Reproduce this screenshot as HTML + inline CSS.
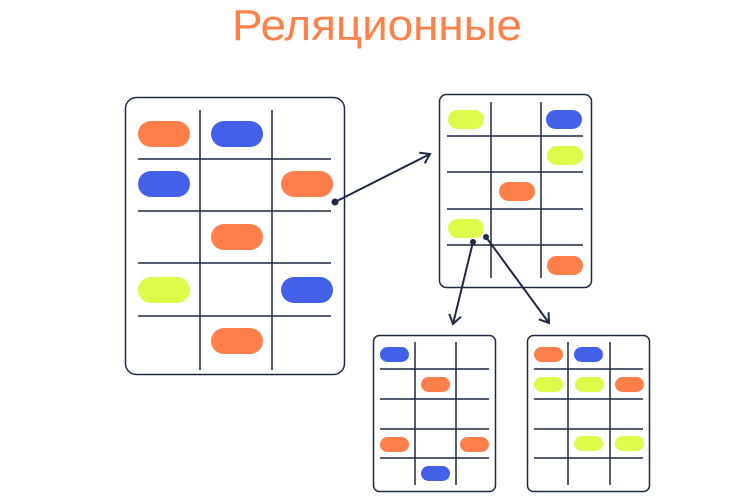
<!DOCTYPE html>
<html><head><meta charset="utf-8"><style>html,body{margin:0;padding:0;background:#fff}svg{display:block}</style></head>
<body>
<svg width="755" height="500" viewBox="0 0 755 500" xmlns="http://www.w3.org/2000/svg">
<defs>
<marker id="ah" markerWidth="14" markerHeight="14" refX="10" refY="7" orient="auto" markerUnits="userSpaceOnUse">
<path d="M1,1 L10,7 L1,13" fill="none" stroke="#1e2a44" stroke-width="2"/>
</marker>
</defs>
<text x="232" y="40" font-family="Liberation Sans, sans-serif" font-size="44" fill="#ff8049" textLength="290" lengthAdjust="spacingAndGlyphs">Реляционные</text>

<g stroke="#1e2a44" fill="none" stroke-width="1.5">
<rect x="125.5" y="97.5" width="219" height="277" rx="11"/>
<line x1="200" y1="110" x2="200" y2="370"/><line x1="272" y1="110" x2="272" y2="370"/>
<line x1="138" y1="159" x2="331" y2="159"/><line x1="138" y1="211" x2="331" y2="211"/>
<line x1="138" y1="263" x2="331" y2="263"/><line x1="138" y1="316" x2="331" y2="316"/>

<rect x="439.5" y="94.5" width="152" height="193" rx="7"/>
<line x1="491" y1="102" x2="491" y2="278"/><line x1="541" y1="102" x2="541" y2="278"/>
<line x1="447" y1="136" x2="583" y2="136"/><line x1="447" y1="172" x2="583" y2="172"/>
<line x1="447" y1="209" x2="583" y2="209"/><line x1="447" y1="245" x2="583" y2="245"/>

<rect x="373.5" y="335.5" width="122" height="156" rx="6"/>
<line x1="415" y1="342" x2="415" y2="485"/><line x1="456" y1="342" x2="456" y2="485"/>
<line x1="380" y1="369" x2="489" y2="369"/><line x1="380" y1="399" x2="489" y2="399"/>
<line x1="380" y1="429" x2="489" y2="429"/><line x1="380" y1="458" x2="489" y2="458"/>

<rect x="527.5" y="335.5" width="122" height="156" rx="6"/>
<line x1="568" y1="342" x2="568" y2="485"/><line x1="610" y1="342" x2="610" y2="485"/>
<line x1="534" y1="369" x2="643" y2="369"/><line x1="534" y1="399" x2="643" y2="399"/>
<line x1="534" y1="429" x2="643" y2="429"/><line x1="534" y1="458" x2="643" y2="458"/>

<line x1="335" y1="202" x2="430" y2="154" marker-end="url(#ah)" stroke-width="2"/>
<line x1="473" y1="242" x2="453" y2="324" marker-end="url(#ah)" stroke-width="2"/>
<line x1="486" y1="237" x2="549" y2="323" marker-end="url(#ah)" stroke-width="2"/>
</g>
<g fill="#1e2a44"><circle cx="335" cy="202" r="3.5"/><circle cx="473" cy="242" r="3"/><circle cx="486" cy="237" r="3"/></g>

<g>
<rect x="138" y="121" width="52" height="26" rx="13" fill="#ff7f4a"/>
<rect x="211" y="121" width="52" height="26" rx="13" fill="#4361e8"/>
<rect x="138" y="171" width="52" height="26" rx="13" fill="#4361e8"/>
<rect x="281" y="171" width="52" height="26" rx="13" fill="#ff7f4a"/>
<rect x="211" y="224" width="52" height="26" rx="13" fill="#ff7f4a"/>
<rect x="138" y="277" width="52" height="26" rx="13" fill="#dcfb4b"/>
<rect x="281" y="277" width="52" height="26" rx="13" fill="#4361e8"/>
<rect x="211" y="328" width="52" height="26" rx="13" fill="#ff7f4a"/>

<rect x="448" y="110" width="36" height="19" rx="9.5" fill="#dcfb4b"/>
<rect x="546" y="110" width="36" height="19" rx="9.5" fill="#4361e8"/>
<rect x="547" y="146" width="36" height="19" rx="9.5" fill="#dcfb4b"/>
<rect x="499" y="182" width="36" height="19" rx="9.5" fill="#ff7f4a"/>
<rect x="448" y="219" width="36" height="19" rx="9.5" fill="#dcfb4b"/>
<rect x="547" y="256" width="36" height="19" rx="9.5" fill="#ff7f4a"/>

<rect x="380" y="347" width="29" height="15" rx="7.5" fill="#4361e8"/>
<rect x="421" y="377" width="29" height="15" rx="7.5" fill="#ff7f4a"/>
<rect x="380" y="437" width="29" height="15" rx="7.5" fill="#ff7f4a"/>
<rect x="460" y="437" width="29" height="15" rx="7.5" fill="#ff7f4a"/>
<rect x="421" y="466" width="29" height="15" rx="7.5" fill="#4361e8"/>

<rect x="534" y="347" width="29" height="15" rx="7.5" fill="#ff7f4a"/>
<rect x="574" y="347" width="29" height="15" rx="7.5" fill="#4361e8"/>
<rect x="534" y="377" width="29" height="15" rx="7.5" fill="#dcfb4b"/>
<rect x="575" y="377" width="29" height="15" rx="7.5" fill="#dcfb4b"/>
<rect x="615" y="377" width="29" height="15" rx="7.5" fill="#ff7f4a"/>
<rect x="574" y="436" width="29" height="15" rx="7.5" fill="#dcfb4b"/>
<rect x="615" y="436" width="29" height="15" rx="7.5" fill="#dcfb4b"/>
</g>
</svg>
</body></html>
